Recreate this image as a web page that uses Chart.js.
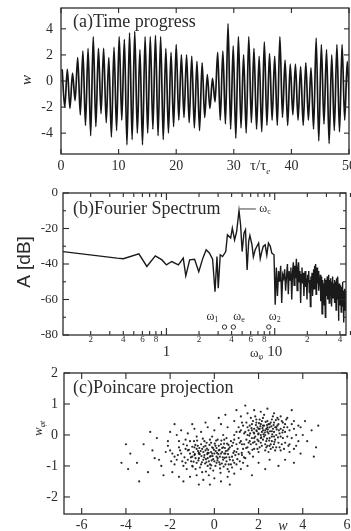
<!DOCTYPE html>
<html>
<head>
<meta charset="utf-8">
<script src="https://cdn.jsdelivr.net/npm/chart.js@4.4.1/dist/chart.umd.min.js"></script>
<style>
  body { margin: 0; background: #fff; overflow: hidden; }
  .panel { position: absolute; left: 0; width: 351px; }
</style>
</head>
<body>
<div class="panel" style="top:0;height:180px"><canvas id="chartA"></canvas></div>
<div class="panel" style="top:180px;height:180px"><canvas id="chartB"></canvas></div>
<div class="panel" style="top:360px;height:171px"><canvas id="chartC"></canvas></div>
<script>
// (a) time progress: peak and trough of each swing
var swingStart = 0.2;
var swingPeriod = 0.9;
var peakW = [0.9, 0.9, 0.6, 1.8, 2.3, 2.5, 3.4, 2.5, 2.5, 1.8,
             2.6, 3.4, 3.2, 3.7, 3.8, 2.4, 3.4, 3.4, 3.5, 3.4,
             2.5, 2.2, 2.8, 2.0, 2.0, 1.9, 1.5, 1.4, 0.5, 0.2,
             2.2, 2.3, 4.4, 2.7, 3.4, 2.0, 3.4, 2.5, 1.9, 3.0,
             2.1, 1.9, 3.4, 1.6, 1.3, 1.3, 1.1, 1.4, 1.0, 3.3,
             2.8, 2.4, 2.0, 2.8, 2.8, 1.5];
var troughW = [-2.0, -2.1, -1.5, -2.6, -3.4, -4.2, -3.5, -2.5, -3.2, -4.3,
               -3.8, -3.0, -4.9, -4.5, -4.0, -4.9, -4.0, -3.7, -4.2, -4.5,
               -4.0, -3.5, -3.0, -2.8, -3.2, -3.6, -3.8, -2.8, -2.1, -1.6,
               -3.0, -3.3, -3.7, -4.4, -3.6, -4.0, -3.2, -3.7, -3.9, -3.4,
               -3.0, -3.4, -2.8, -3.4, -2.6, -3.0, -3.4, -3.0, -3.7, -4.6,
               -3.3, -4.8, -3.8, -3.9, -3.0, -2.7];
var timeTicks = [0, 10, 20, 30, 40, 50];
var wTicks = [-4, -2, 0, 2, 4];

// (b) Fourier spectrum
var specFreq = [0.111, 0.35, 0.4, 0.557, 0.66, 0.79, 0.91, 1.0, 1.12, 1.29,
                1.43, 1.51, 1.64, 1.82, 1.99, 2.17, 2.33, 2.5, 2.67, 2.81,
                2.93, 3.01, 3.14, 3.3, 3.53, 3.66, 3.92, 4.06, 4.26, 4.45,
                4.68, 4.84, 5.0, 5.2, 5.37, 5.56, 5.75, 5.9, 6.17, 6.35,
                6.6, 6.85, 7.1, 7.35, 7.6, 7.85, 8.16, 8.45, 8.75, 9.1,
                9.4, 9.85];
var specDb = [-33, -36.7, -37, -34.3, -41.4, -35.4, -37.7, -40.5, -38.6, -40.5,
              -36.7, -46.7, -37.7, -37.3, -44.3, -36.7, -32, -33.9, -37.3, -55.6,
              -35.8, -53.7, -34.8, -35.8, -33, -23.5, -25.4, -19.8, -26.4, -21.7,
              -10, -17.9, -33, -22.6, -20.7, -43.3, -27.3, -24, -29.2, -36,
              -32, -30, -28.2, -37, -33, -30, -29.2, -35, -28.2, -30,
              -33.9, -34.8];
// above 10 the spectrum is a dense band, sampled every 0.25
var bandStart = 10.1;
var bandStep = 0.25;
var bandDb = [-63,
  -42, -58, -44, -50, -41, -62, -46, -48, -43, -55,
  -47, -40, -57, -44, -49, -42, -60, -45, -39, -52,
  -41, -48, -37, -55, -43, -39, -50, -44, -62, -46,
  -42, -51, -45, -58, -47, -44, -53, -48, -60, -46,
  -50, -44, -56, -49, -64, -47, -52, -45, -58, -50,
  -43, -54, -41, -49, -40, -57, -45, -42, -51, -47,
  -44, -55, -48, -52, -46, -61, -50, -47, -68, -53,
  -49, -56, -51, -63, -48, -54, -70, -52, -49, -58,
  -51, -47, -60, -50, -55, -46, -62, -53, -49, -57,
  -48, -54, -52, -64, -50, -56, -47, -59, -53, -51,
  -55, -49, -62, -52, -58, -50, -66, -54, -48, -57,
  -53, -60, -47, -56, -72, -55, -51, -59, -54, -63,
  -52, -58, -55, -67, -53, -60, -56, -50, -64, -57,
  -55, -62, -58, -73, -56, -61, -54, -66, -59, -57,
  -60, -55, -63, -58, -61, -56, -65, -59, -62];
var markerFreq = [3.44, 4.15, 8.82];
var markerDb = [-75.5, -75.5, -75.5];
var markerSub = ['1', 'e', '2'];
var peakFreq = 4.75;
var peakDb = -9;
var dbTicks = [0, -20, -40, -60, -80];

// (c) Poincare projection, (w, w_phi t) pairs
var poincarePairs = [
  -1.2,-0.5, -1.0,-0.7, -0.9,-0.4, -0.8,-0.9, -0.7,-0.6, -0.6,-0.3, -0.5,-0.8, -0.4,-0.5, -0.3,-1.0, -0.2,-0.7,
  -0.1,-0.4, 0.0,-0.6, 0.1,-0.9, 0.2,-0.5, 0.3,-0.3, 0.4,-0.8, 0.5,-0.6, 0.6,-1.1, 0.7,-0.4, 0.8,-0.7,
  -1.5,-0.6, -1.4,-0.3, -1.3,-0.9, -1.1,-0.2, -0.95,-0.55, -0.85,-0.75, -0.75,-0.35, -0.65,-1.05, -0.55,-0.45, -0.45,-0.65,
  -0.35,-0.25, -0.25,-0.85, -0.15,-0.55, -0.05,-1.15, 0.05,-0.35, 0.15,-0.75, 0.25,-0.95, 0.35,-0.55, 0.45,-0.15, 0.55,-0.85,
  0.65,-0.45, 0.75,-0.95, 0.85,-0.25, 0.95,-0.65, 1.05,-0.45, 1.15,-0.85, 1.25,-0.3, -1.7,-0.8, -1.6,-0.4, -1.9,-0.6,
  -2.1,-0.35, -1.8,-0.95, -1.25,-1.1, -1.05,-0.85, -0.92,-0.2, -0.72,-0.82, -0.62,-0.52, -0.52,-0.12, -0.42,-0.92, -0.32,-0.62,
  -0.22,-0.32, -0.12,-0.82, -0.02,-0.48, 0.08,-0.18, 0.18,-0.62, 0.28,-1.22, 0.38,-0.72, 0.48,-0.42, 0.58,-0.28, 0.68,-0.72,
  -0.58,-0.68, -0.48,-0.38, -0.38,-0.78, -0.28,-0.48, -0.18,-1.08, -0.08,-0.68, 0.02,-0.28, 0.12,-0.58, 0.22,-0.88, 0.32,-0.18,
  -1.35,-0.72, -1.15,-0.48, -0.98,-1.02, -0.88,-0.62, -0.78,-0.18, -0.68,-0.42, -0.38,-1.18, 0.42,-1.02, 0.52,-0.52, 0.62,-0.62,
  -0.05,-0.78, 0.1,-0.42, -0.3,-0.58, -0.7,-0.58, 0.9,-0.52, 1.1,-0.62, 0.8,-1.05, -1.0,-0.38, -0.2,-0.15, 0.35,-0.42,
  -0.9,-0.65, -0.8,-0.45, -0.7,-0.75, -0.6,-0.95, -0.5,-0.55, -0.4,-0.35, -0.3,-0.75, -0.2,-0.95, -0.1,-0.6, 0.0,-0.85,
  0.1,-0.7, 0.2,-0.35, 0.3,-0.6, 0.4,-0.4, 0.5,-0.95, 0.6,-0.5, 0.7,-0.8, 0.8,-0.35, 0.9,-0.9, 1.0,-0.55,
  -1.1,-0.6, -1.2,-0.8, -1.3,-0.45, -1.45,-0.85, -1.55,-0.5, -1.65,-0.65, -1.0,-1.0, -0.85,-1.1, -0.55,-1.2, -0.25,-1.3,
  0.05,-1.0, 0.25,-0.7, 0.45,-0.6, 0.65,-0.95, -0.45,-0.2, -0.15,-0.25, 0.15,-0.15, 0.55,-0.1, 0.75,-0.2, 1.15,-0.25,
  -0.66,-0.62, -0.46,-0.72, -0.26,-0.58, -0.06,-0.42, 0.14,-0.82, 0.34,-0.92, 0.54,-0.72, -0.86,-0.32, -1.06,-0.72, -0.16,-0.68,
  -0.36,-0.88, -0.56,-0.88, 0.24,-0.48, 0.44,-0.28, 0.64,-0.32, 0.84,-0.82, 1.04,-0.78, 1.24,-0.58, 1.34,-0.72, 1.44,-0.42,
  -0.74,-0.52, -0.34,-0.44, 0.06,-0.52, 0.46,-0.74, 0.86,-0.58, -1.24,-0.34, -0.94,-0.86, -0.14,-0.98, 0.26,-1.08, 0.66,-1.18,
  -1.4,-1.0, -1.8,-0.7, -2.0,-0.5, -1.95,-0.85, -1.6,-0.2, -1.3,-0.15, -0.8,-0.05, -0.1,-0.05, 0.4,0.0, 0.9,0.0,
  1.2,-0.2, 1.4,0.1, 1.5,-0.4, 1.6,0.3, 1.7,-0.1, 1.8,0.2, 1.9,-0.3, 2.0,0.05, 2.1,0.35, 2.2,-0.15,
  2.3,0.15, 2.4,-0.35, 2.5,0.25, 2.6,-0.05, 2.7,0.4, 2.8,0.0, 2.9,-0.25, 3.0,0.2, 3.1,-0.1, 3.2,0.1,
  1.3,-0.45, 1.45,-0.15, 1.55,0.15, 1.65,-0.3, 1.75,0.45, 1.85,-0.05, 1.95,0.25, 2.05,-0.4, 2.15,0.1, 2.25,0.3,
  2.35,-0.2, 2.45,0.05, 2.55,-0.3, 2.65,0.2, 2.75,-0.15, 2.85,0.3, 2.95,0.05, 3.05,-0.3, 3.15,0.25, 3.3,-0.05,
  1.6,-0.6, 1.9,0.5, 2.2,0.55, 2.4,0.45, 2.6,0.5, 1.7,0.35, 2.0,-0.55, 2.3,-0.5, 2.8,-0.4, 3.4,0.15,
  1.35,0.05, 1.5,0.25, 1.8,-0.45, 2.1,-0.25, 2.5,-0.1, 2.7,0.1, 2.9,0.35, 3.1,0.4, 3.5,-0.1, 3.6,0.2,
  1.25,-0.65, 1.4,-0.75, 1.55,-0.55, 1.75,-0.7, 1.95,-0.15, 2.15,0.45, 2.35,0.2, 2.55,0.4, 2.75,0.25, 3.2,-0.25,
  1.0,-0.3, 1.1,-0.1, 0.9,-0.15, 1.15,0.1, 1.3,0.3, 2.05,0.2, 2.25,-0.05, 2.45,-0.55, 2.65,-0.4, 3.0,-0.5,
  1.62,0.05, 1.82,-0.22, 2.02,0.38, 2.22,0.02, 2.42,0.18, 2.62,0.02, 2.82,0.18, 1.72,-0.48, 1.92,0.12, 2.12,-0.08,
  2.32,0.42, 2.52,0.12, 2.72,-0.22, 2.92,0.15, 1.58,-0.02, 1.88,0.32, 2.18,0.22, 2.38,-0.12, 2.58,0.28, 2.78,0.48,
  1.5,0.0, 1.6,-0.2, 1.7,0.15, 1.8,-0.1, 1.9,0.4, 2.0,-0.2, 2.1,0.0, 2.2,0.3, 2.3,-0.3, 2.4,0.1,
  2.5,0.35, 2.6,-0.2, 2.7,-0.05, 2.8,0.25, 2.9,0.5, 3.0,-0.05, 3.1,0.15, 3.2,0.35, 3.3,0.25, 3.4,-0.3,
  1.45,0.4, 1.65,0.55, 1.85,0.6, 2.05,0.5, 2.25,0.65, 2.45,0.35, 2.65,0.6, 2.85,0.55, 3.05,0.45, 3.25,0.5,
  1.55,-0.25, 1.75,-0.25, 1.95,-0.45, 2.15,-0.35, 2.35,-0.4, 2.55,-0.45, 2.75,-0.5, 2.95,-0.4, 3.15,-0.45, 3.35,-0.35,
  1.68,0.22, 1.98,0.02, 2.28,0.08, 2.48,-0.18, 2.68,0.32, 2.88,-0.08, 3.08,0.08, 1.78,0.08, 2.08,0.28, 2.38,0.32,
  3.7,0.0, 3.8,-0.2, 3.9,0.25, 3.6,-0.45, 3.5,0.35, 1.2,0.15, 1.25,0.4, 1.1,0.25, 1.0,0.1, 1.35,-0.3,
  2.2,0.15, 2.4,0.25, 2.6,0.12, 2.0,0.2, 1.8,0.05, 2.7,-0.3, 2.5,-0.35, 2.3,0.0, 2.1,-0.1, 1.9,0.15,
  -3.8,-0.6, -3.5,-0.9, -3.2,-0.3, -3.0,-1.2, -2.8,-0.5, -2.6,-0.1, -2.5,-0.8, -2.3,-1.3, -2.2,-0.55, -2.0,0.1,
  -2.4,-1.0, -2.7,-0.75, -1.9,-1.2, -1.6,-1.35, -1.4,-1.5, -1.2,0.05, -0.9,0.2, -0.6,0.1, -0.3,0.25, 0.0,0.15,
  0.3,0.35, 0.6,0.25, 0.9,0.45, 1.2,0.6, 1.5,0.7, 1.8,0.8, 2.1,0.75, 2.4,0.85, 2.7,0.7, 3.0,0.6,
  3.3,0.55, 3.6,0.45, 3.8,0.3, 4.0,0.0, 4.2,-0.2, 4.4,0.15, 4.6,-0.4, 3.9,-0.6, 3.7,-0.35, 3.4,-0.55,
  0.0,-1.4, 0.3,-1.5, 0.6,-1.35, 0.9,-1.25, 1.2,-1.1, 1.5,-1.0, -0.5,-1.45, -0.8,-1.3, -1.1,-1.35, -0.2,-1.6,
  1.0,-0.95, 1.3,-0.9, 2.0,-0.9, 2.5,-0.8, 3.2,-0.8, -1.7,0.0, -2.1,-0.2, -1.5,0.15, -1.0,0.35, -0.4,0.4,
  0.2,0.55, 0.5,0.65, 1.0,0.8, 1.4,0.95, -3.9,-1.1, -4.2,-0.9, 4.7,0.3, 4.5,-0.7, 4.1,0.45, 3.5,0.8,
  -3.4,-1.5, -2.9,0.1, -1.8,0.35, -0.7,-1.6, 0.7,-1.6, 1.7,-1.3, 2.3,-1.1, 2.9,-1.0, 3.6,-0.9, -4.0,-0.3
];
var wPoincareTicks = [-6, -4, -2, 0, 2, 4, 6];
var wPhiTicks = [-2, -1, 0, 1, 2];

var INK = '#2b2b2b';
var SERIF = '"Liberation Serif", "DejaVu Serif", serif';

// ---------- drawing helpers ----------
function seg(ctx, x1, y1, x2, y2) {
    ctx.beginPath();
    ctx.moveTo(x1, y1);
    ctx.lineTo(x2, y2);
    ctx.stroke();
}

function label(ctx, str, x, y, font, align, baseline) {
    ctx.font = font;
    ctx.textAlign = align || 'center';
    ctx.textBaseline = baseline || 'middle';
    ctx.fillText(str, x, y);
}

// text with a subscript, left aligned at x, on baseline y
function subLabel(ctx, main, sub, x, y, font, subFont, drop) {
    ctx.font = font;
    ctx.textAlign = 'left';
    ctx.textBaseline = 'alphabetic';
    ctx.fillText(main, x, y);
    var w = ctx.measureText(main).width;
    ctx.font = subFont;
    ctx.fillText(sub, x + w, y + drop);
}

function drawFrame(chart, xList, yList) {
    var ctx = chart.ctx, a = chart.chartArea;
    var xs = chart.scales.x, ys = chart.scales.y;
    ctx.save();
    ctx.strokeStyle = INK;
    ctx.lineWidth = 1.3;
    ctx.strokeRect(a.left, a.top, a.right - a.left, a.bottom - a.top);
    ctx.lineWidth = 1.1;
    xList.forEach(function(t) {
        var p = xs.getPixelForValue(t[0]);
        seg(ctx, p, a.bottom, p, a.bottom - t[1]);
        seg(ctx, p, a.top, p, a.top + t[1]);
    });
    yList.forEach(function(t) {
        var p = ys.getPixelForValue(t[0]);
        seg(ctx, a.left, p, a.left + t[1], p);
        seg(ctx, a.right, p, a.right - t[1], p);
    });
    ctx.restore();
}

function hiddenAxis(cfg, fit) {
    cfg.ticks = { display: false };
    cfg.grid = { display: false };
    cfg.border = { display: false };
    cfg.afterFit = fit;
    return cfg;
}

function baseOptions(xAxis, yAxis, pad) {
    return {
        responsive: true,
        maintainAspectRatio: false,
        animation: false,
        layout: { padding: pad },
        plugins: { legend: { display: false }, tooltip: { enabled: false } },
        scales: { x: xAxis, y: yAxis }
    };
}

// ---------- (a) ----------
var timePoints = [];
for (var i = 0; i < peakW.length; i++) {
    timePoints.push({ x: swingStart + i * swingPeriod, y: peakW[i] });
    timePoints.push({ x: swingStart + i * swingPeriod + swingPeriod / 2, y: troughW[i] });
}

new Chart(document.getElementById('chartA'), {
    type: 'line',
    data: { datasets: [{
        data: timePoints,
        borderColor: '#151515',
        borderWidth: 1.7,
        pointRadius: 0,
        cubicInterpolationMode: 'monotone'
    }] },
    options: baseOptions(
        hiddenAxis({ type: 'linear', min: 0, max: 50 }, function(s) { s.height = 26; }),
        hiddenAxis({ type: 'linear', min: -5.6, max: 5.6 }, function(s) { s.width = 61; }),
        { top: 8, right: 2, left: 0, bottom: 0 }
    ),
    plugins: [{
        id: 'panelA',
        afterDraw: function(chart) {
            var ctx = chart.ctx, xs = chart.scales.x, ys = chart.scales.y;
            drawFrame(chart, timeTicks.map(function(v) { return [v, 5]; }),
                             wTicks.map(function(v) { return [v, 5]; }));
            ctx.save();
            ctx.fillStyle = INK;
            timeTicks.forEach(function(v) {
                label(ctx, String(v), xs.getPixelForValue(v), 166, '14px ' + SERIF);
            });
            wTicks.forEach(function(v) {
                label(ctx, String(v), 53, ys.getPixelForValue(v), '14px ' + SERIF, 'right');
            });
            label(ctx, '(a)Time progress', 73, 27, '18px ' + SERIF, 'left', 'alphabetic');
            subLabel(ctx, 'τ/τ', 'e', 250, 170, '15px ' + SERIF, 'italic 9px ' + SERIF, 4);
            ctx.save();
            ctx.translate(27, 80);
            ctx.rotate(-Math.PI / 2);
            label(ctx, 'w', 0, 0, 'italic 15px ' + SERIF);
            ctx.restore();
            ctx.restore();
        }
    }]
});

// ---------- (b) ----------
var specPoints = specFreq.map(function(f, i) { return { x: f, y: specDb[i] }; });
bandDb.forEach(function(v, i) {
    specPoints.push({ x: bandStart + i * bandStep, y: v });
});
var markerPoints = markerFreq.map(function(f, i) { return { x: f, y: markerDb[i] }; });

var logMinor = [];
[0.1, 1, 10].forEach(function(d) {
    for (var k = 2; k <= 9; k++) logMinor.push(k * d);
});
var logLabelled = [0.2, 0.4, 0.6, 0.8, 2, 4, 6, 8, 20, 40];

new Chart(document.getElementById('chartB'), {
    type: 'line',
    data: { datasets: [{
        data: specPoints,
        borderColor: '#1a1a1a',
        borderWidth: 1.4,
        pointRadius: 0
    }, {
        data: markerPoints,
        showLine: false,
        pointRadius: 2.2,
        pointBorderWidth: 1,
        pointBorderColor: '#333',
        pointBackgroundColor: '#fff'
    }] },
    options: baseOptions(
        hiddenAxis({ type: 'logarithmic', min: 0.111, max: 45.5 }, function(s) { s.height = 25; }),
        hiddenAxis({ type: 'linear', min: -80, max: 0 }, function(s) { s.width = 63; }),
        { top: 13, right: 1, left: 0, bottom: 0 }
    ),
    plugins: [{
        id: 'panelB',
        afterDraw: function(chart) {
            var ctx = chart.ctx, xs = chart.scales.x, ys = chart.scales.y;
            var xl = [[1, 7], [10, 7]].concat(logMinor.map(function(v) { return [v, 4]; }));
            var yl = dbTicks.map(function(v) { return [v, 6]; })
                .concat([-10, -30, -50, -70].map(function(v) { return [v, 3]; }));
            drawFrame(chart, xl, yl);
            ctx.save();
            ctx.fillStyle = INK;
            ctx.strokeStyle = INK;
            logLabelled.forEach(function(v) {
                var digit = Math.round(v / Math.pow(10, Math.floor(Math.log10(v) + 1e-9)));
                label(ctx, String(digit), xs.getPixelForValue(v), 160, '9px ' + SERIF);
            });
            label(ctx, '1', xs.getPixelForValue(1), 172, '15px ' + SERIF);
            label(ctx, '10', xs.getPixelForValue(10), 172, '15px ' + SERIF);
            subLabel(ctx, 'ω', 'φ', 250, 177, '13px ' + SERIF, '8px ' + SERIF, 2);
            dbTicks.forEach(function(v) {
                label(ctx, String(v), 58, ys.getPixelForValue(v), '13px ' + SERIF, 'right');
            });
            label(ctx, '(b)Fourier Spectrum', 73, 34, '18px ' + SERIF, 'left', 'alphabetic');
            ctx.save();
            ctx.translate(25, 82);
            ctx.rotate(-Math.PI / 2);
            label(ctx, 'A [dB]', 0, 0, '19px "Liberation Sans", Arial, sans-serif');
            ctx.restore();
            // omega_c pointer
            var py = ys.getPixelForValue(peakDb);
            ctx.lineWidth = 0.9;
            seg(ctx, xs.getPixelForValue(peakFreq), py, xs.getPixelForValue(6.7), py);
            subLabel(ctx, 'ω', 'c', xs.getPixelForValue(7.2), py + 3, '12px ' + SERIF, '8px ' + SERIF, 2);
            // marker names
            var shifts = [-18, 0, 0];
            markerFreq.forEach(function(f, i) {
                subLabel(ctx, 'ω', markerSub[i], xs.getPixelForValue(f) + shifts[i],
                         ys.getPixelForValue(markerDb[i]) - 7, '12px ' + SERIF, '8px ' + SERIF, 2);
            });
            ctx.restore();
        }
    }]
});

// ---------- (c) ----------
var poincarePoints = [];
for (var j = 0; j < poincarePairs.length; j += 2) {
    poincarePoints.push({ x: poincarePairs[j], y: poincarePairs[j + 1] });
}

new Chart(document.getElementById('chartC'), {
    type: 'scatter',
    data: { datasets: [{
        data: poincarePoints,
        pointRadius: 1.1,
        pointBorderWidth: 0,
        pointBackgroundColor: 'rgba(20,20,20,0.9)'
    }] },
    options: baseOptions(
        hiddenAxis({ type: 'linear', min: -6.8, max: 6 }, function(s) { s.height = 17; }),
        hiddenAxis({ type: 'linear', min: -2.55, max: 2 }, function(s) { s.width = 64; }),
        { top: 13, right: 1, left: 0, bottom: 0 }
    ),
    plugins: [{
        id: 'panelC',
        afterDraw: function(chart) {
            var ctx = chart.ctx, xs = chart.scales.x, ys = chart.scales.y;
            drawFrame(chart, wPoincareTicks.map(function(v) { return [v, 6]; }),
                             wPhiTicks.map(function(v) { return [v, 6]; }));
            ctx.save();
            ctx.fillStyle = INK;
            wPoincareTicks.forEach(function(v) {
                label(ctx, String(v), xs.getPixelForValue(v), 165, '14px ' + SERIF);
            });
            wPhiTicks.forEach(function(v) {
                label(ctx, String(v), 58, ys.getPixelForValue(v), '14px ' + SERIF, 'right');
            });
            label(ctx, '(c)Poincare projection', 73, 33, '18px ' + SERIF, 'left', 'alphabetic');
            label(ctx, 'w', 283, 166, 'italic 14px ' + SERIF);
            ctx.save();
            ctx.translate(42, 76);
            ctx.rotate(-Math.PI / 2);
            subLabel(ctx, 'w', 'φt', 0, 0, 'italic 13px ' + SERIF, 'italic 8px ' + SERIF, 3);
            ctx.restore();
            ctx.restore();
        }
    }]
});
</script>
</body>
</html>
